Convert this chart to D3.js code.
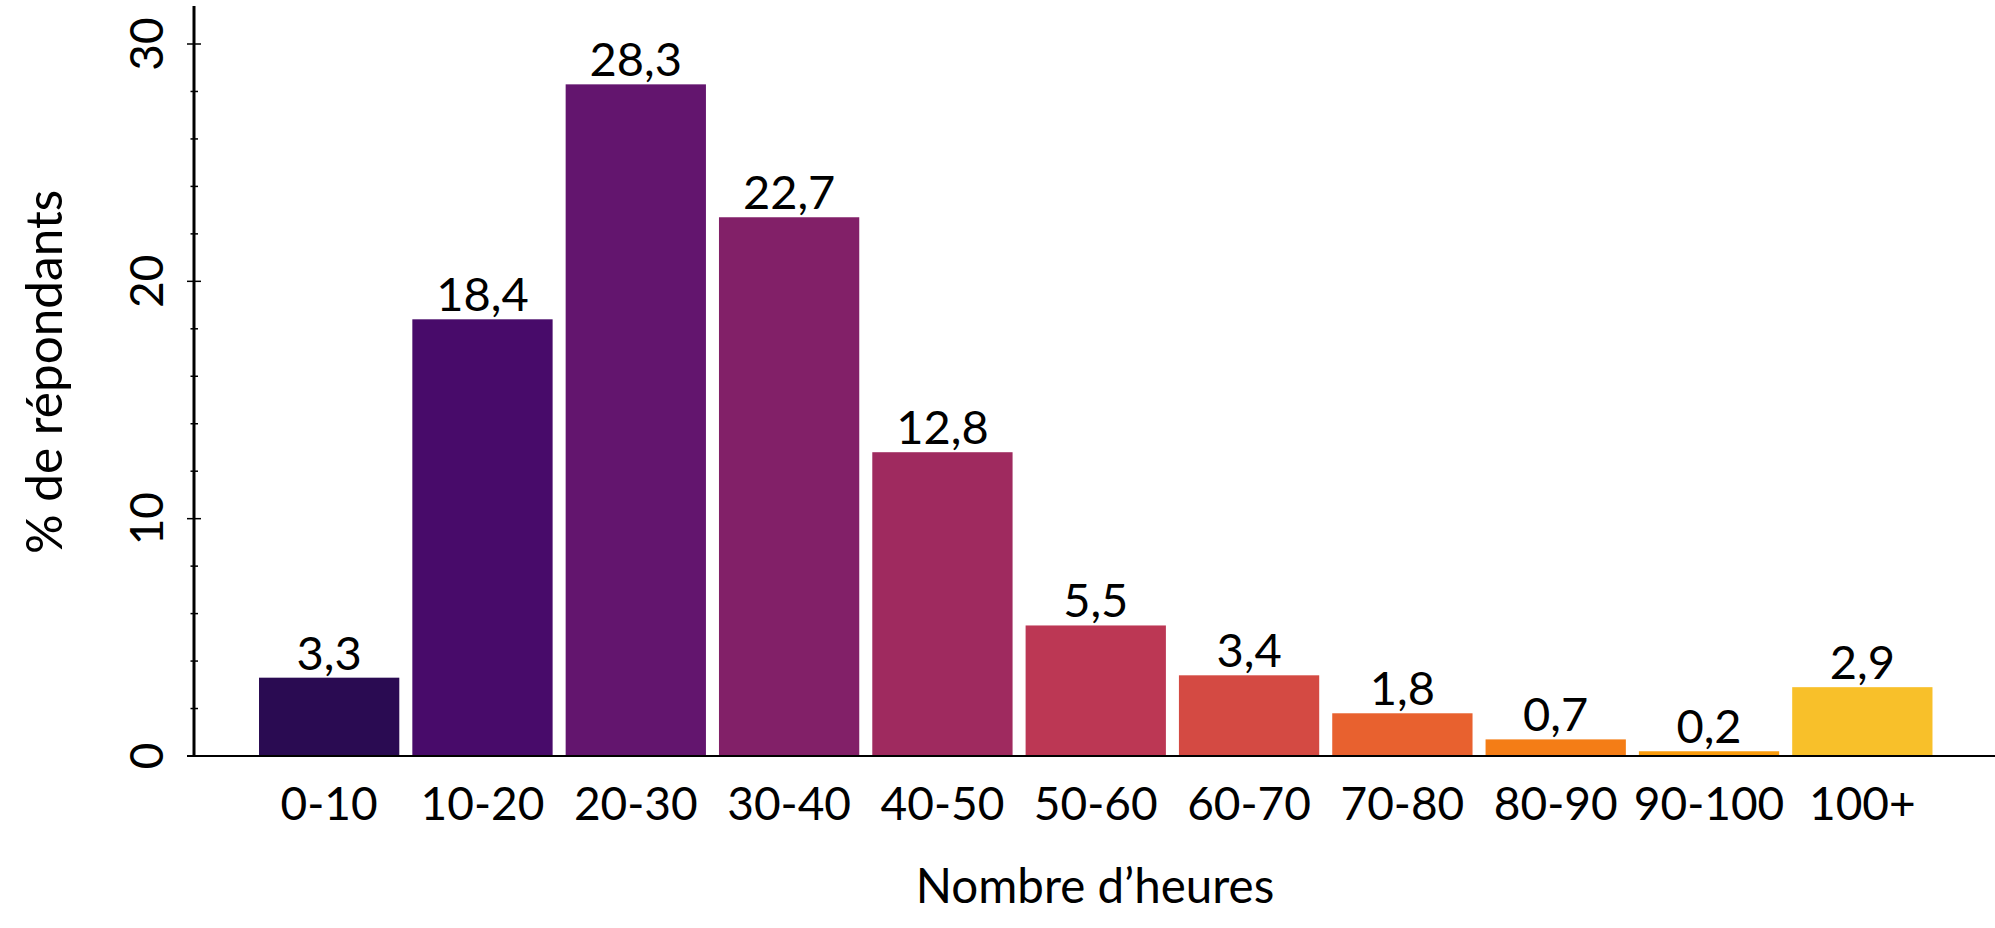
<!DOCTYPE html>
<html>
<head>
<meta charset="utf-8">
<script src="https://cdn.jsdelivr.net/npm/d3@7"></script>
<style>
  html, body { margin: 0; padding: 0; background: #ffffff; }
  svg { display: block; font-family: Lato, "Open Sans", sans-serif; }
</style>
</head>
<body>
<svg id="chart" width="1995" height="928"></svg>
<script>
const categories = ["0-10", "10-20", "20-30", "30-40", "40-50", "50-60", "60-70", "70-80", "80-90", "90-100", "100+"];
const values = [3.3, 18.4, 28.3, 22.7, 12.8, 5.5, 3.4, 1.8, 0.7, 0.2, 2.9];
const barColors = ["#2a0b52", "#480b6a", "#63156e", "#822068", "#9f2a5f", "#bc3754", "#d44a43", "#e8612f", "#f47d16", "#f99b0c", "#f8c02a"];
const yMajorTicks = [0, 10, 20, 30];
const yMinorTicks = [2, 4, 6, 8, 12, 14, 16, 18, 22, 24, 26, 28];
const xTitle = "Nombre d’heures";
const yTitle = "% de répondants";

const svg = d3.select("#chart");
const W = 1995;

const x = d3.scaleBand()
  .domain(categories)
  .range([252.5, 1939])
  .paddingInner(0.085)
  .paddingOuter(0.0425);

const y = d3.scaleLinear().domain([0, 30]).range([756, 44]);
const axisX = 194;

// bars
svg.append("g").selectAll("rect")
  .data(values)
  .join("rect")
  .attr("x", (d, i) => x(categories[i]))
  .attr("width", x.bandwidth())
  .attr("y", d => y(d))
  .attr("height", d => y(0) - y(d))
  .attr("fill", (d, i) => barColors[i]);

// data labels
svg.append("g").selectAll("text")
  .data(values)
  .join("text")
  .attr("x", (d, i) => x(categories[i]) + x.bandwidth() / 2)
  .attr("y", d => y(d) - 8)
  .attr("text-anchor", "middle")
  .attr("font-size", 47)
  .attr("fill", "#000")
  .text(d => d.toFixed(1).replace(".", ","));

// x baseline
svg.append("line")
  .attr("x1", 187).attr("x2", W)
  .attr("y1", y(0)).attr("y2", y(0))
  .attr("stroke", "#000").attr("stroke-width", 2);

// y axis line
svg.append("line")
  .attr("x1", axisX).attr("x2", axisX)
  .attr("y1", y(31.6)).attr("y2", y(0))
  .attr("stroke", "#000").attr("stroke-width", 3);

// major ticks
svg.append("g").selectAll("line")
  .data(yMajorTicks)
  .join("line")
  .attr("x1", axisX - 7).attr("x2", axisX + 7)
  .attr("y1", d => y(d)).attr("y2", d => y(d))
  .attr("stroke", "#000").attr("stroke-width", 1.5);

// minor ticks
svg.append("g").selectAll("line")
  .data(yMinorTicks)
  .join("line")
  .attr("x1", axisX - 3.5).attr("x2", axisX + 4)
  .attr("y1", d => y(d)).attr("y2", d => y(d))
  .attr("stroke", "#000").attr("stroke-width", 1.5);

// y tick labels (rotated)
svg.append("g").selectAll("text")
  .data(yMajorTicks)
  .join("text")
  .attr("transform", d => `translate(163,${y(d)}) rotate(-90)`)
  .attr("text-anchor", "middle")
  .attr("font-size", 46)
  .attr("fill", "#000")
  .text(d => d);

// x tick labels
svg.append("g").selectAll("text")
  .data(categories)
  .join("text")
  .attr("x", d => x(d) + x.bandwidth() / 2)
  .attr("y", 820)
  .attr("text-anchor", "middle")
  .attr("font-size", 46)
  .attr("fill", "#000")
  .text(d => d);

// x title
svg.append("text")
  .attr("x", 1095).attr("y", 903)
  .attr("text-anchor", "middle")
  .attr("font-size", 47.5)
  .attr("fill", "#000")
  .text(xTitle);

// y title
svg.append("text")
  .attr("transform", "translate(62,372) rotate(-90)")
  .attr("text-anchor", "middle")
  .attr("font-size", 49.5)
  .attr("fill", "#000")
  .text(yTitle);
</script>
</body>
</html>
